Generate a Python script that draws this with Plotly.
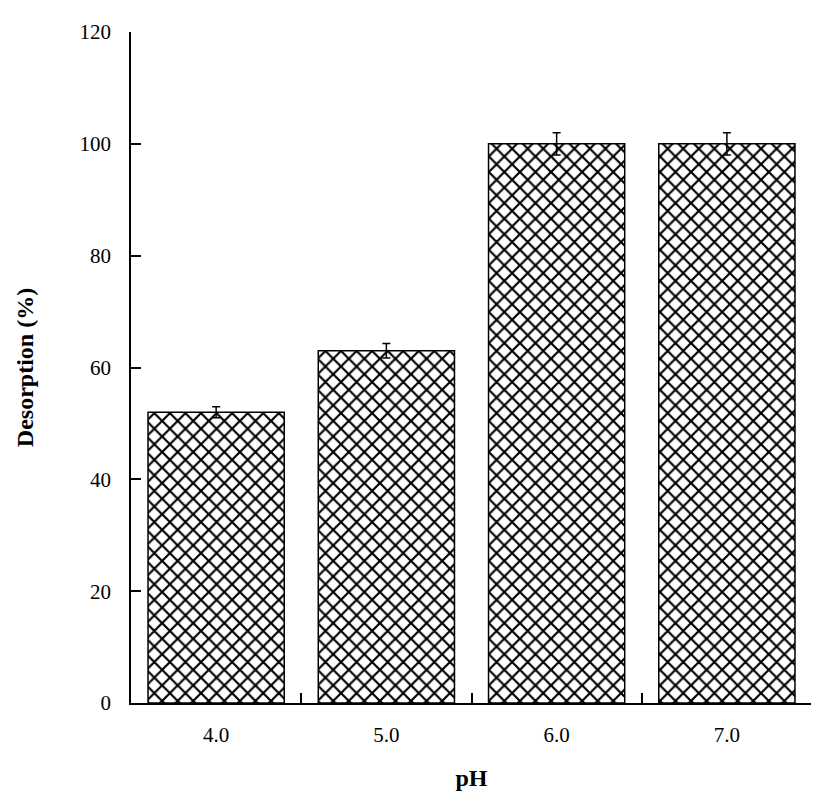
import plotly.graph_objects as go

categories = ["4.0", "5.0", "6.0", "7.0"]
desorption = [52, 63, 100, 100]
errors = [1.0, 1.3, 2.0, 2.0]
y_ticks = [0, 20, 40, 60, 80, 100, 120]

fig = go.Figure()
fig.add_trace(go.Bar(
    x=categories, y=desorption,
    marker=dict(color="white",
                line=dict(color="black", width=1.5),
                pattern=dict(shape="x", size=11, solidity=0.36,
                             fgcolor="black", fgopacity=1, bgcolor="white")),
    error_y=dict(type="data", array=errors, color="black", thickness=1.5, width=4),
    width=0.80,
))

font_family = "Liberation Serif, Times New Roman, serif"
fig.update_layout(
    width=819, height=805,
    margin=dict(l=123, r=15, t=16, b=110),
    plot_bgcolor="white", paper_bgcolor="white",
    showlegend=False,
    font=dict(family=font_family, size=21, color="black"),
    xaxis=dict(
        type="category", showline=True, linecolor="black", linewidth=1.5,
        ticks="inside", ticklen=10, tickwidth=1.5, tickcolor="black",
        tickson="boundaries", showgrid=False, zeroline=False,
        tickfont=dict(family=font_family, size=21),
        ticklabelstandoff=12,
        title=dict(text="<b>pH</b>", font=dict(family=font_family, size=24), standoff=23),
        range=[-0.5, 3.5],
    ),
    yaxis=dict(
        range=[0, 120], tickvals=y_ticks,
        showline=True, linecolor="black", linewidth=1.5,
        ticks="inside", ticklen=10, tickwidth=1.5, tickcolor="black",
        showgrid=False, zeroline=False,
        tickfont=dict(family=font_family, size=21),
        ticklabelstandoff=14,
        title=dict(text="<b>Desorption (%)</b>", font=dict(family=font_family, size=24), standoff=39),
    ),
)

fig.write_html("out.html")
